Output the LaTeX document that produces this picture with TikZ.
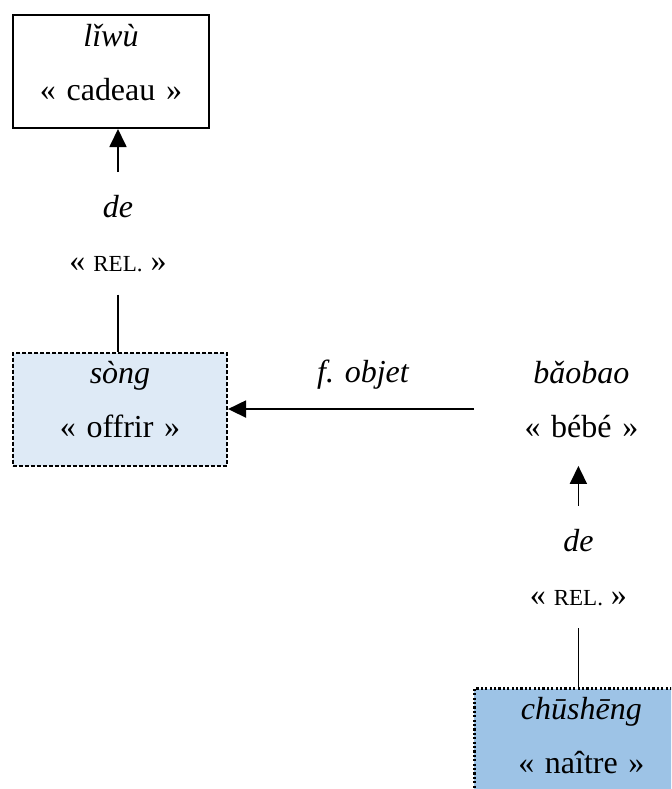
\documentclass[tikz,border=0pt]{standalone}
\usepackage{fontspec}
\setmainfont{Liberation Serif}
\usepackage{xcolor}
\usepackage{tikz}
\usetikzlibrary{positioning, arrows.meta}
\definecolor{songbg}{RGB}{222,234,246}
\definecolor{chushengbg}{RGB}{157,195,230}
\newcommand{\glosscell}[2]{\rule{0pt}{15.5pt}#1\\#2\rule[-14pt]{0pt}{14pt}}
\newcommand{\relsc}{{\fontsize{11.5}{12}\selectfont REL.}}

\begin{document}
\begin{tikzpicture}[
        x=0.5pt, y=-0.5pt,
        every node/.style={font=\fontsize{16}{27}\selectfont, inner sep=0pt, align=center},
        cell/.style={text width=107pt, minimum height=56.5pt},
        plainbox/.style={cell, draw, line width=1pt, text width=98pt},
        songbox/.style={cell, draw, fill=songbg, line width=1pt, dash pattern=on 2pt off 1pt},
        chubox/.style={cell, draw, fill=chushengbg, line width=1.1pt, dash pattern=on 1.1pt off 1.1pt},
        gloss/.style={outer ysep=11.5pt},
        arr/.style={-{Triangle[length=9pt, width=8.5pt]}, line width=0.9pt},
        link/.style={line width=0.9pt}
    ]
    \useasboundingbox (0,0) rectangle (671,789);
    \clip (0,0) rectangle (671,789);

    \node[plainbox] (liwu) at (111,71.5) {\glosscell{\textit{lǐwù}}{« cadeau »}};
    \node[gloss] (de1) [below=21.5pt of liwu, xshift=3.5pt] {\textit{de}\\« \relsc{} »};
    \node[songbox] (song) [below=28.5pt of de1, xshift=1pt] {\glosscell{\textit{sòng}}{« offrir »}};

    \node[cell] (baobao) [right=123pt of song] {\glosscell{\textit{bǎobao}}{« bébé »}};
    \node[gloss] (de2) [below=20pt of baobao, xshift=-1.5pt] {\textit{de}\\« \relsc{} »};
    \node[chubox] (chusheng) [below=29.5pt of de2, xshift=1.5pt] {\glosscell{\textit{chūshēng}}{« naître »}};

    \draw[arr] (de1.north) -- (de1.north |- liwu.south);
    \draw[link] (de1.south) -- (de1.south |- song.north);
    \draw[arr] (baobao.west) -- node[pos=0.45, above=9.5pt] {\textit{f. objet}} (song.east);
    \draw[arr] (de2.north) -- (de2.north |- baobao.south);
    \draw[link] (de2.south) -- (de2.south |- chusheng.north);

    \end{tikzpicture}
\end{document}
